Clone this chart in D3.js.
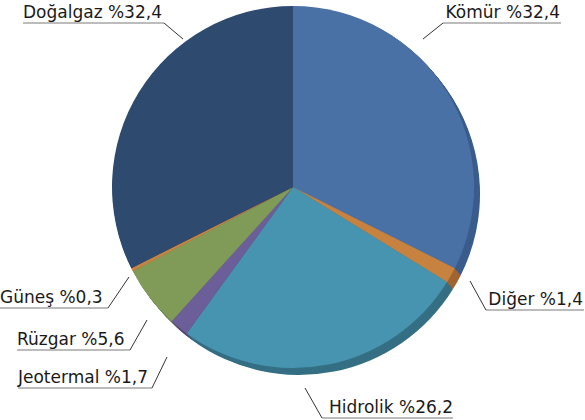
<!DOCTYPE html>
<html><head><meta charset="utf-8">
<script src="https://cdn.jsdelivr.net/npm/d3@7/dist/d3.min.js"></script>
<style>html,body{margin:0;padding:0;background:#fff;}</style>
</head><body>
<svg id="c" width="585" height="420"></svg>
<script>
const categories = ["Kömür", "Diğer", "Hidrolik", "Jeotermal", "Rüzgar", "Güneş", "Doğalgaz"];
const values = [32.4, 1.4, 26.2, 1.7, 5.6, 0.3, 32.4];
const labels = ["Kömür %32,4", "Diğer %1,4", "Hidrolik %26,2", "Jeotermal %1,7", "Rüzgar %5,6", "Güneş %0,3", "Doğalgaz %32,4"];
const colors = ["#4A71A6", "#C8823F", "#4694B0", "#6C5E98", "#7F9B57", "#C8823F", "#2E4A6F"];
const sideColors = ["#3A5D8C", "#A0642F", "#356F84", "#534878", "#617842", "#A0642F", "#233A58"];

// label layout: text anchor point (x, baseline y), text-anchor, underline start/end, leader tip
const labelLayout = [
  {tx: 560, ty: 18, anchor: "end", u0: 443, u1: 561, uy: 23, lx: 423, ly: 39},
  {tx: 583, ty: 305, anchor: "end", u0: 486, u1: 584, uy: 310, lx: 470, ly: 281},
  {tx: 453, ty: 413, anchor: "end", u0: 322, u1: 453, uy: 418, lx: 305, ly: 388},
  {tx: 18, ty: 383, anchor: "start", u0: 18, u1: 152, uy: 388, lx: 167, ly: 357},
  {tx: 17, ty: 345, anchor: "start", u0: 17, u1: 130, uy: 350, lx: 147, ly: 320},
  {tx: 0, ty: 303, anchor: "start", u0: 0, u1: 108, uy: 308, lx: 129, ly: 277},
  {tx: 23, ty: 18, anchor: "start", u0: 23, u1: 164, uy: 23, lx: 183, ly: 39}
];

const svg = d3.select("#c");
const cx = 293, cy = 187, r = 181;
const pie = d3.pie().sort(null).value(d => d).startAngle(0).endAngle(2 * Math.PI);
const arcs = pie(values);
const arc = d3.arc().innerRadius(0).outerRadius(r);

// extruded side (3D edge) drawn as stacked offset copies
const depthX = 6, depthY = 7, steps = 8;
for (let s = steps; s >= 1; s--) {
  const g = svg.append("g").attr("transform", `translate(${cx + depthX * s / steps},${cy + depthY * s / steps})`);
  g.selectAll("path").data(arcs).enter().append("path")
    .attr("d", arc)
    .attr("fill", (d, i) => sideColors[i]);
}
const faceG = svg.append("g").attr("transform", `translate(${cx},${cy})`);
faceG.selectAll("path").data(arcs).enter().append("path")
  .attr("d", arc)
  .attr("fill", (d, i) => colors[i]);

// labels
const lg = svg.append("g");
labelLayout.forEach((L, i) => {
  const x0 = L.anchor === "end" ? L.u0 : L.u1;
  lg.append("polyline")
    .attr("points", `${L.u0},${L.uy} ${L.u1},${L.uy}`)
    .attr("fill", "none").attr("stroke", "#7a7a7a").attr("stroke-width", 1.2);
  lg.append("line")
    .attr("x1", x0).attr("y1", L.uy).attr("x2", L.lx).attr("y2", L.ly)
    .attr("stroke", "#333").attr("stroke-width", 1);
  lg.append("text")
    .attr("x", L.tx).attr("y", L.ty)
    .attr("text-anchor", L.anchor)
    .attr("font-family", "'DejaVu Sans', sans-serif")
    .attr("font-size", 17)
    .attr("fill", "#1a1a1a")
    .text(labels[i]);
});
</script>
</body></html>
